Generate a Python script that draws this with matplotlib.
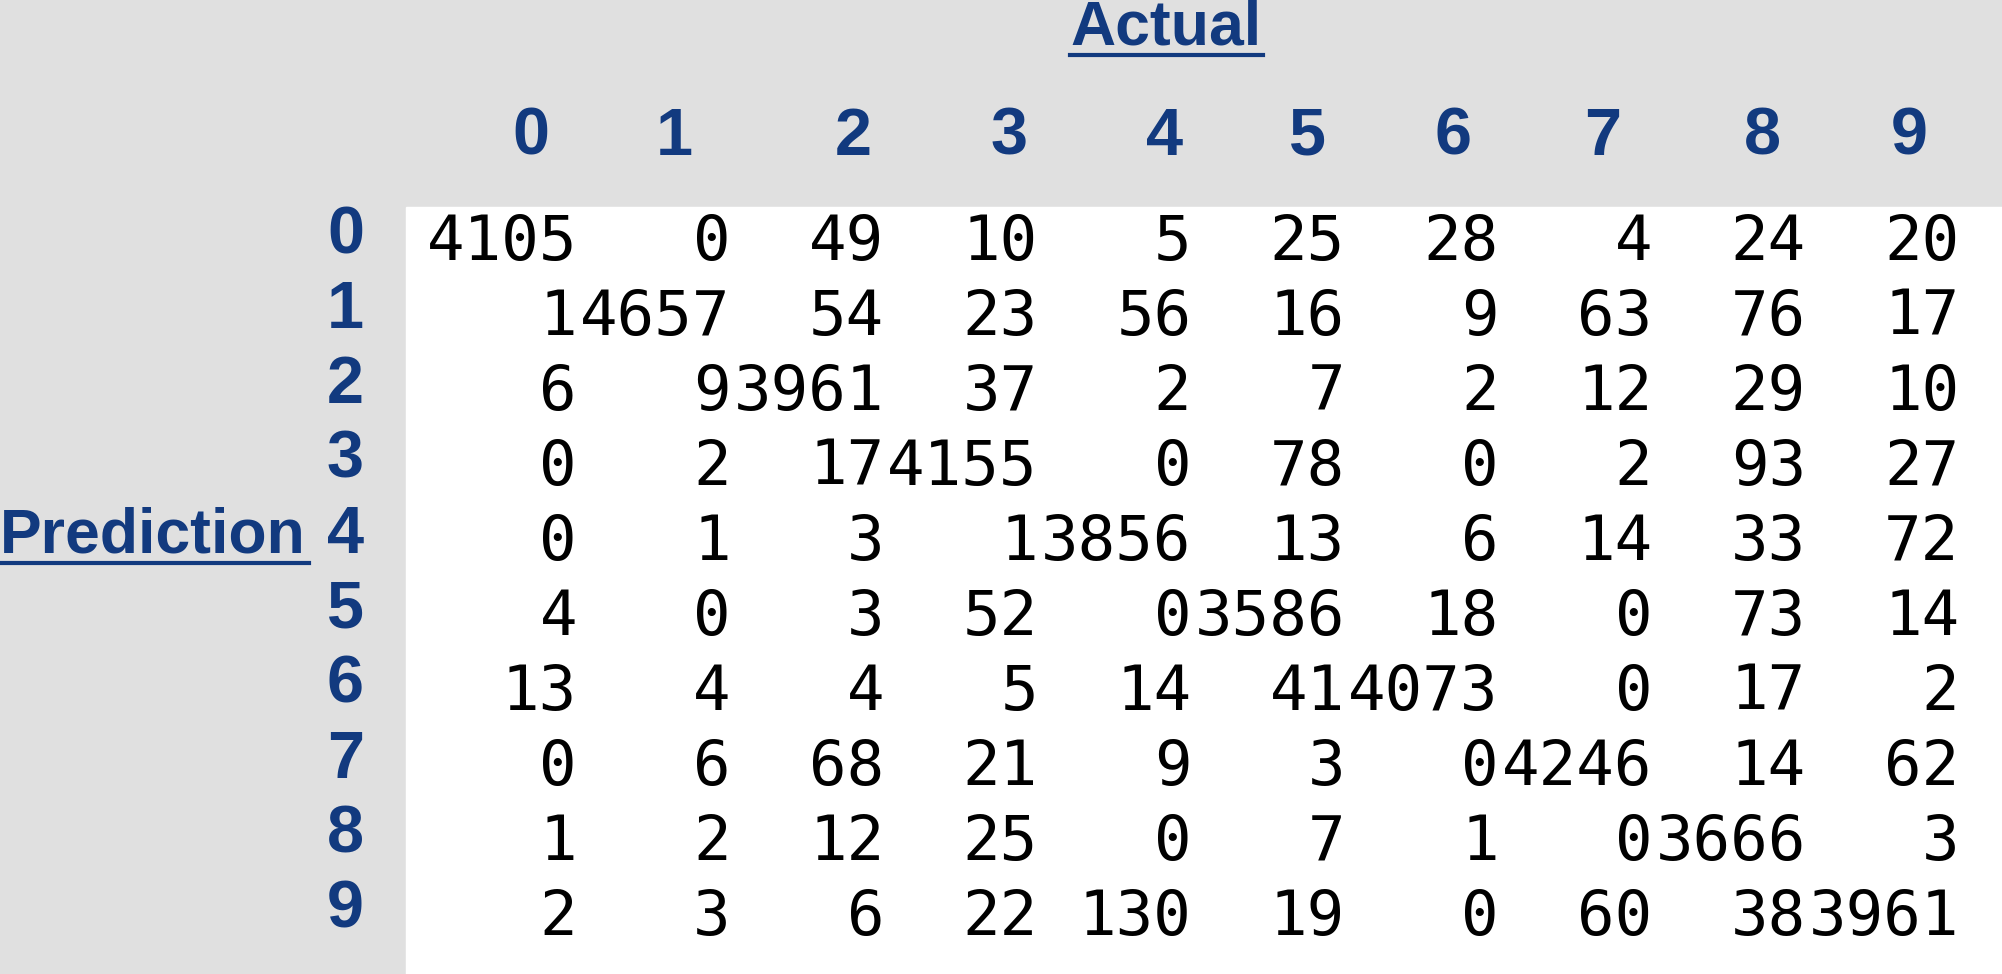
import matplotlib
matplotlib.use("Agg")
import matplotlib.pyplot as plt
from matplotlib.patches import Rectangle

labels = ["0", "1", "2", "3", "4", "5", "6", "7", "8", "9"]
matrix = [
    [4105, 0, 49, 10, 5, 25, 28, 4, 24, 20],
    [1, 4657, 54, 23, 56, 16, 9, 63, 76, 17],
    [6, 9, 3961, 37, 2, 7, 2, 12, 29, 10],
    [0, 2, 17, 4155, 0, 78, 0, 2, 93, 27],
    [0, 1, 3, 1, 3856, 13, 6, 14, 33, 72],
    [4, 0, 3, 52, 0, 3586, 18, 0, 73, 14],
    [13, 4, 4, 5, 14, 41, 4073, 0, 17, 2],
    [0, 6, 68, 21, 9, 3, 0, 4246, 14, 62],
    [1, 2, 12, 25, 0, 7, 1, 0, 3666, 3],
    [2, 3, 6, 22, 130, 19, 0, 60, 38, 3961],
]

W, H = 1568, 763
fig = plt.figure(figsize=(20.02, 9.74), dpi=100)
fig.patch.set_facecolor("#e0e0e0")
ax = fig.add_axes([0, 0, 1, 1])
ax.set_xlim(0, W); ax.set_ylim(H, 0); ax.axis("off")
ax.add_patch(Rectangle((318, 162), W - 318, H - 162, color="white", zorder=0))

blue = "#123a7f"
hfont = "Liberation Sans"
col_right = [452 + 120.3 * i for i in range(10)]
head_x = [416, 528, 668, 790, 912, 1024, 1138, 1255, 1380, 1495]
for i, lab in enumerate(labels):
    ax.text(head_x[i], 108, lab, ha="center", va="center", fontsize=48,
            fontweight="bold", color=blue, family=hfont)
    ax.text(285, 185 + 58.7 * i, lab, ha="right", va="center", fontsize=48,
            fontweight="bold", color=blue, family=hfont)
    for j, v in enumerate(matrix[i]):
        ax.text(col_right[j], 190 + 58.8 * i, str(v), ha="right", va="center",
                fontsize=45, color="black", family="DejaVu Sans Mono")

ax.text(913, 22, "Actual", ha="center", va="center", fontsize=45,
        fontweight="bold", color=blue, family=hfont)
ax.plot([838, 989], [43, 43], color=blue, lw=3)
ax.text(0, 420, "Prediction", ha="left", va="center", fontsize=45,
        fontweight="bold", color=blue, family=hfont)
ax.plot([1, 242], [441, 441], color=blue, lw=3)

fig.savefig("out.png", dpi=100, facecolor=fig.get_facecolor())
